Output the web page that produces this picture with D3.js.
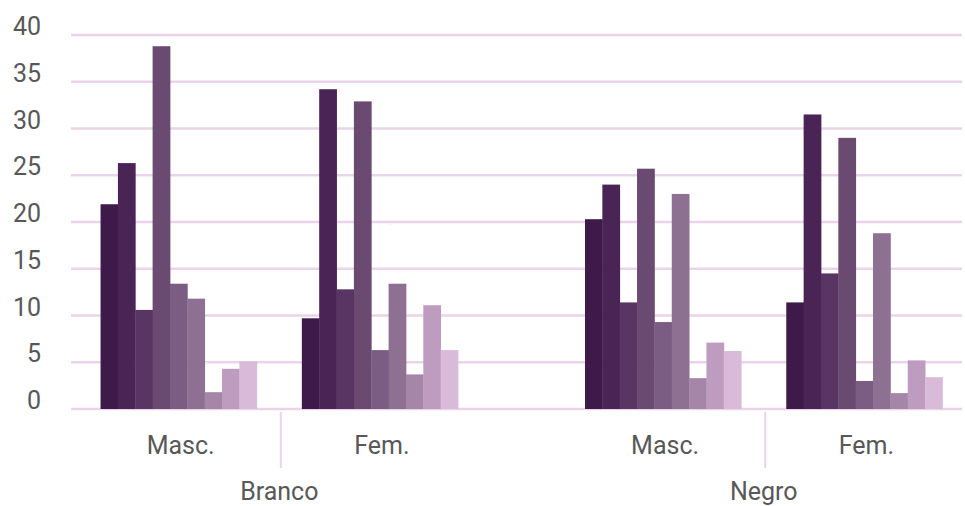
<!DOCTYPE html>
<html>
<head>
<meta charset="utf-8">
<script src="https://cdn.jsdelivr.net/npm/d3@7"></script>
<style>
  html, body { margin: 0; padding: 0; background: #fff; }
  svg { display: block; }
  text { font-family: Roboto, "DejaVu Sans", sans-serif; fill: #585858; }
</style>
</head>
<body>
<svg id="chart" width="965" height="506"></svg>
<script>
// Outer groups and inner categories
const groups = ["Branco", "Negro"];
const sexes = ["Masc.", "Fem."];
const series = ["Série 1", "Série 2", "Série 3", "Série 4", "Série 5", "Série 6", "Série 7", "Série 8", "Série 9"];

// Values per series, one array for each group/sex pair
const brancoMasc = [21.9, 26.3, 10.6, 38.8, 13.4, 11.8, 1.8, 4.3, 5.1];
const brancoFem  = [9.7, 34.2, 12.8, 32.9, 6.3, 13.4, 3.7, 11.1, 6.3];
const negroMasc  = [20.3, 24.0, 11.4, 25.7, 9.3, 23.0, 3.3, 7.1, 6.2];
const negroFem   = [11.4, 31.5, 14.5, 29.0, 3.0, 18.8, 1.7, 5.2, 3.4];

const yTicks = [0, 5, 10, 15, 20, 25, 30, 35, 40];

const seriesColors = ["#3e1a4b", "#4b2456", "#583563", "#6a4a70", "#7b5c82", "#8e7092", "#a586a8", "#bd9cc0", "#d9bad9"];

const values = {
  "Branco|Masc.": brancoMasc,
  "Branco|Fem.": brancoFem,
  "Negro|Masc.": negroMasc,
  "Negro|Fem.": negroFem
};

const W = 965, H = 506;
const svg = d3.select("#chart");

// Slight pencil-like wobble for the grid strokes
const defs = svg.append("defs");
const f = defs.append("filter").attr("id", "sketch")
  .attr("filterUnits", "userSpaceOnUse")
  .attr("x", 0).attr("y", 0).attr("width", W).attr("height", H);
f.append("feTurbulence").attr("type", "fractalNoise").attr("baseFrequency", "0.04 0.5")
  .attr("numOctaves", 2).attr("seed", 3).attr("result", "noise");
f.append("feDisplacementMap").attr("in", "SourceGraphic").attr("in2", "noise")
  .attr("scale", 1.4).attr("xChannelSelector", "R").attr("yChannelSelector", "G");

const y = d3.scaleLinear().domain([0, 40]).range([409, 35]);

const xOuter = d3.scaleBand().domain(groups).range([78, 965]).paddingInner(0.169).paddingOuter(0);
const xInner = d3.scaleBand().domain(sexes).range([0, xOuter.bandwidth()]).padding(0);
const xBar = d3.scaleBand().domain(series).range([0, xInner.bandwidth()]).paddingInner(0).paddingOuter(1.3);

// Horizontal gridlines
svg.append("g").attr("filter", "url(#sketch)")
  .selectAll("line").data(yTicks).join("line")
  .attr("x1", 71).attr("x2", 962)
  .attr("y1", d => y(d)).attr("y2", d => y(d))
  .attr("stroke", "#e9d4e9").attr("stroke-width", 2.4);

// Y axis labels, baseline on the gridline
svg.append("g").selectAll("text").data(yTicks).join("text")
  .attr("x", 41).attr("y", d => y(d))
  .attr("text-anchor", "end")
  .attr("font-size", 25)
  .text(d => d);

// Bars
const cells = [];
groups.forEach(g => sexes.forEach(s => {
  values[g + "|" + s].forEach((v, i) => cells.push({ g, s, series: series[i], i, v }));
}));

svg.append("g").selectAll("rect").data(cells).join("rect")
  .attr("x", d => xOuter(d.g) + xInner(d.s) + xBar(d.series))
  .attr("width", xBar.bandwidth() + 0.4)
  .attr("y", d => y(d.v))
  .attr("height", d => y(0) - y(d.v))
  .attr("fill", d => seriesColors[d.i]);

// Separators between the inner categories
svg.append("g").attr("filter", "url(#sketch)")
  .selectAll("line").data(groups).join("line")
  .attr("x1", g => xOuter(g) + xInner("Fem.") + 1.5)
  .attr("x2", g => xOuter(g) + xInner("Fem.") + 1.5)
  .attr("y1", 412).attr("y2", 468)
  .attr("stroke", "#e9d4e9").attr("stroke-width", 2);

// Inner category labels
const inner = [];
groups.forEach(g => sexes.forEach(s => inner.push({ g, s })));
svg.append("g").selectAll("text").data(inner).join("text")
  .attr("x", d => xOuter(d.g) + xInner(d.s) + xInner.bandwidth() / 2 + 2)
  .attr("y", 454)
  .attr("text-anchor", "middle")
  .attr("font-size", 25)
  .text(d => d.s);

// Outer group labels
svg.append("g").selectAll("text").data(groups).join("text")
  .attr("x", g => xOuter(g) + xOuter.bandwidth() / 2)
  .attr("y", 500)
  .attr("text-anchor", "middle")
  .attr("font-size", 25)
  .text(g => g);
</script>
</body>
</html>
